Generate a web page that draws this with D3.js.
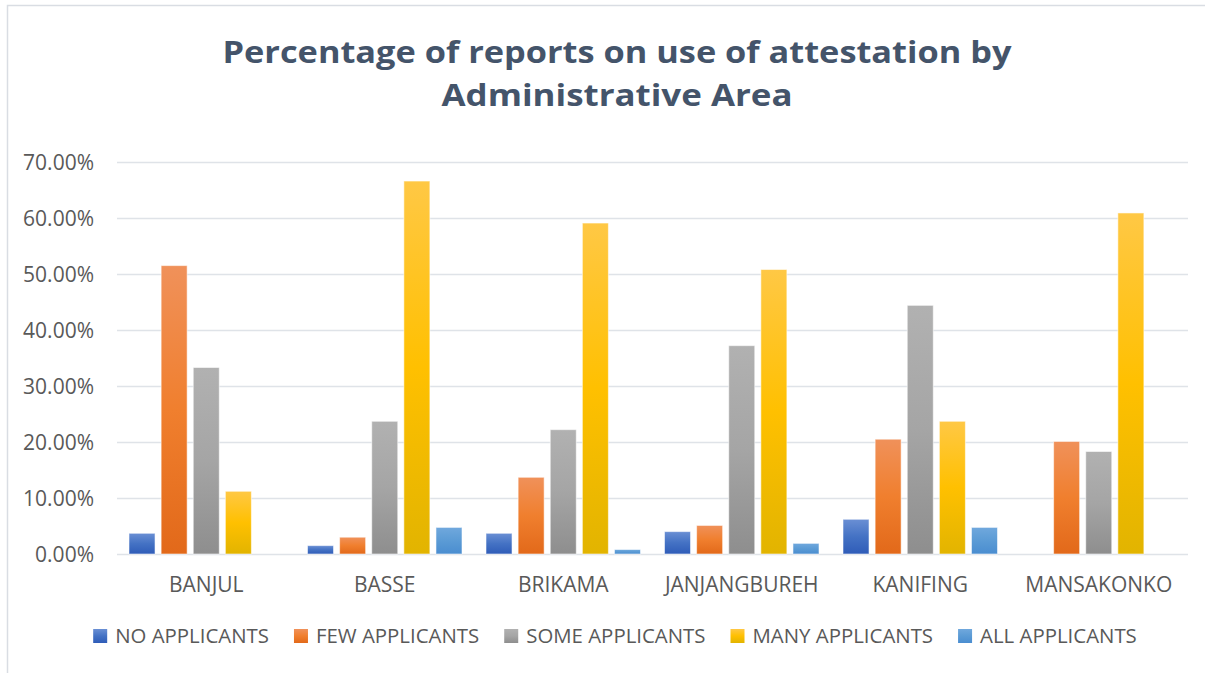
<!DOCTYPE html>
<html>
<head>
<meta charset="utf-8">
<script src="https://cdn.jsdelivr.net/npm/d3@7"></script>
<style>
  html, body { margin: 0; padding: 0; background: #fff; }
  svg { display: block; }
</style>
</head>
<body>
<div id="chart"></div>
<script>
const titleLines = ["Percentage of reports on use of attestation by", "Administrative  Area"];
const categories = ["BANJUL", "BASSE", "BRIKAMA", "JANJANGBUREH", "KANIFING", "MANSAKONKO"];
const seriesNames = ["NO APPLICANTS", "FEW APPLICANTS", "SOME APPLICANTS", "MANY APPLICANTS", "ALL APPLICANTS"];
const noApplicants   = [3.7, 1.5, 3.7, 4.0, 6.2, 0];
const fewApplicants  = [51.5, 3.0, 13.7, 5.1, 20.5, 20.1];
const someApplicants = [33.3, 23.7, 22.2, 37.2, 44.4, 18.3];
const manyApplicants = [11.2, 66.6, 59.1, 50.8, 23.7, 60.9];
const allApplicants  = [0, 4.75, 0.8, 1.9, 4.75, 0];
const yTicks = [0, 10, 20, 30, 40, 50, 60, 70];

const seriesValues = [noApplicants, fewApplicants, someApplicants, manyApplicants, allApplicants];
// top / middle / bottom of each bar's gradient
const seriesColors = [
  ["#6a8fd4", "#4472c4", "#2f5cb8"],
  ["#f0915a", "#f07f2e", "#e2691a"],
  ["#b1b1b1", "#a5a5a5", "#8e8e8e"],
  ["#ffc845", "#ffc000", "#e2b400"],
  ["#70a8dd", "#5b9bd5", "#4a8dd0"]
];

const w = 1205, h = 673;
const plot = {left: 117, right: 1188, top: 162, bottom: 554};
const font = "'Open Sans', 'DejaVu Sans', sans-serif";

const svg = d3.select("#chart").append("svg")
  .attr("width", w)
  .attr("height", h);

const defs = svg.append("defs");
seriesColors.forEach((c, i) => {
  const g = defs.append("linearGradient")
    .attr("id", "grad" + i)
    .attr("x1", 0).attr("y1", 0).attr("x2", 0).attr("y2", 1);
  g.append("stop").attr("offset", "0%").attr("stop-color", c[0]);
  g.append("stop").attr("offset", "50%").attr("stop-color", c[1]);
  g.append("stop").attr("offset", "100%").attr("stop-color", c[2]);
});

// chart border
svg.append("rect")
  .attr("x", 7.5).attr("y", 5.5)
  .attr("width", w + 20).attr("height", h + 20)
  .attr("fill", "none")
  .attr("stroke", "#d9dde3")
  .attr("stroke-width", 1.5);

// title
const titleY = [63, 106];
const titleWidth = [789, 351];
titleLines.forEach((t, i) => {
  svg.append("text")
    .attr("x", 617)
    .attr("y", titleY[i])
    .attr("text-anchor", "middle")
    .attr("font-family", font)
    .attr("font-weight", "bold")
    .attr("font-size", 31)
    .attr("fill", "#44546a")
    .attr("textLength", titleWidth[i])
    .attr("lengthAdjust", "spacingAndGlyphs")
    .text(t);
});

const y = d3.scaleLinear()
  .domain([0, 70])
  .range([plot.bottom, plot.top]);

const x0 = d3.scaleBand()
  .domain(categories)
  .range([plot.left, plot.right]);

const x1 = d3.scaleBand()
  .domain(seriesNames)
  .range([12, x0.bandwidth() - 12])
  .paddingInner(0.19);

// gridlines
svg.append("g")
  .selectAll("line")
  .data(yTicks)
  .enter()
  .append("line")
  .attr("x1", plot.left)
  .attr("x2", plot.right)
  .attr("y1", d => Math.round(y(d)) + 0.5)
  .attr("y2", d => Math.round(y(d)) + 0.5)
  .attr("stroke", "#dfe3e8")
  .attr("stroke-width", 1.5);

// y axis labels
const yAxis = d3.axisLeft(y)
  .tickValues(yTicks)
  .tickSize(0)
  .tickPadding(0)
  .tickFormat(d => d3.format(".2f")(d) + "%");

const yAxisG = svg.append("g")
  .attr("transform", `translate(${94}, 0)`)
  .call(yAxis);
yAxisG.select(".domain").remove();
yAxisG.selectAll("text")
  .attr("font-family", font)
  .attr("font-size", 21)
  .attr("fill", "#595959")
  .attr("dy", "0.36em");

// bars
const groups = svg.append("g")
  .selectAll("g")
  .data(categories)
  .enter()
  .append("g")
  .attr("transform", d => `translate(${x0(d)}, 0)`);

groups.selectAll("rect")
  .data((d, ci) => seriesNames.map((s, si) => ({s: s, si: si, v: seriesValues[si][ci]})).filter(e => e.v > 0))
  .enter()
  .append("rect")
  .attr("x", d => x1(d.s))
  .attr("y", d => y(d.v))
  .attr("width", x1.bandwidth())
  .attr("height", d => y(0) - y(d.v))
  .attr("fill", d => `url(#grad${d.si})`)
  .attr("stroke", "#ffffff")
  .attr("stroke-opacity", 0.55)
  .attr("stroke-width", 1);

// category labels
const xAxis = d3.axisBottom(x0).tickSize(0).tickPadding(0);
const xAxisG = svg.append("g")
  .attr("transform", `translate(0, ${592})`)
  .call(xAxis);
xAxisG.select(".domain").remove();
xAxisG.selectAll("text")
  .attr("font-family", font)
  .attr("font-size", 21)
  .attr("fill", "#595959")
  .attr("dy", 0);

// legend
const legend = svg.append("g");
const items = legend.selectAll("g")
  .data(seriesNames)
  .enter()
  .append("g");

items.append("rect")
  .attr("width", 14)
  .attr("height", 14)
  .attr("y", 629)
  .attr("fill", (d, i) => `url(#grad${i})`);

items.append("text")
  .attr("x", 22)
  .attr("y", 643)
  .attr("font-family", font)
  .attr("font-size", 20.4)
  .attr("fill", "#595959")
  .text(d => d);

let widths = [];
items.each(function () { widths.push(this.getBBox().width); });
const gap = 25;
const total = d3.sum(widths) + gap * (widths.length - 1);
let cur = 615 - total / 2;
items.attr("transform", (d, i) => {
  const tx = cur;
  cur += widths[i] + gap;
  return `translate(${tx}, 0)`;
});
</script>
</body>
</html>
